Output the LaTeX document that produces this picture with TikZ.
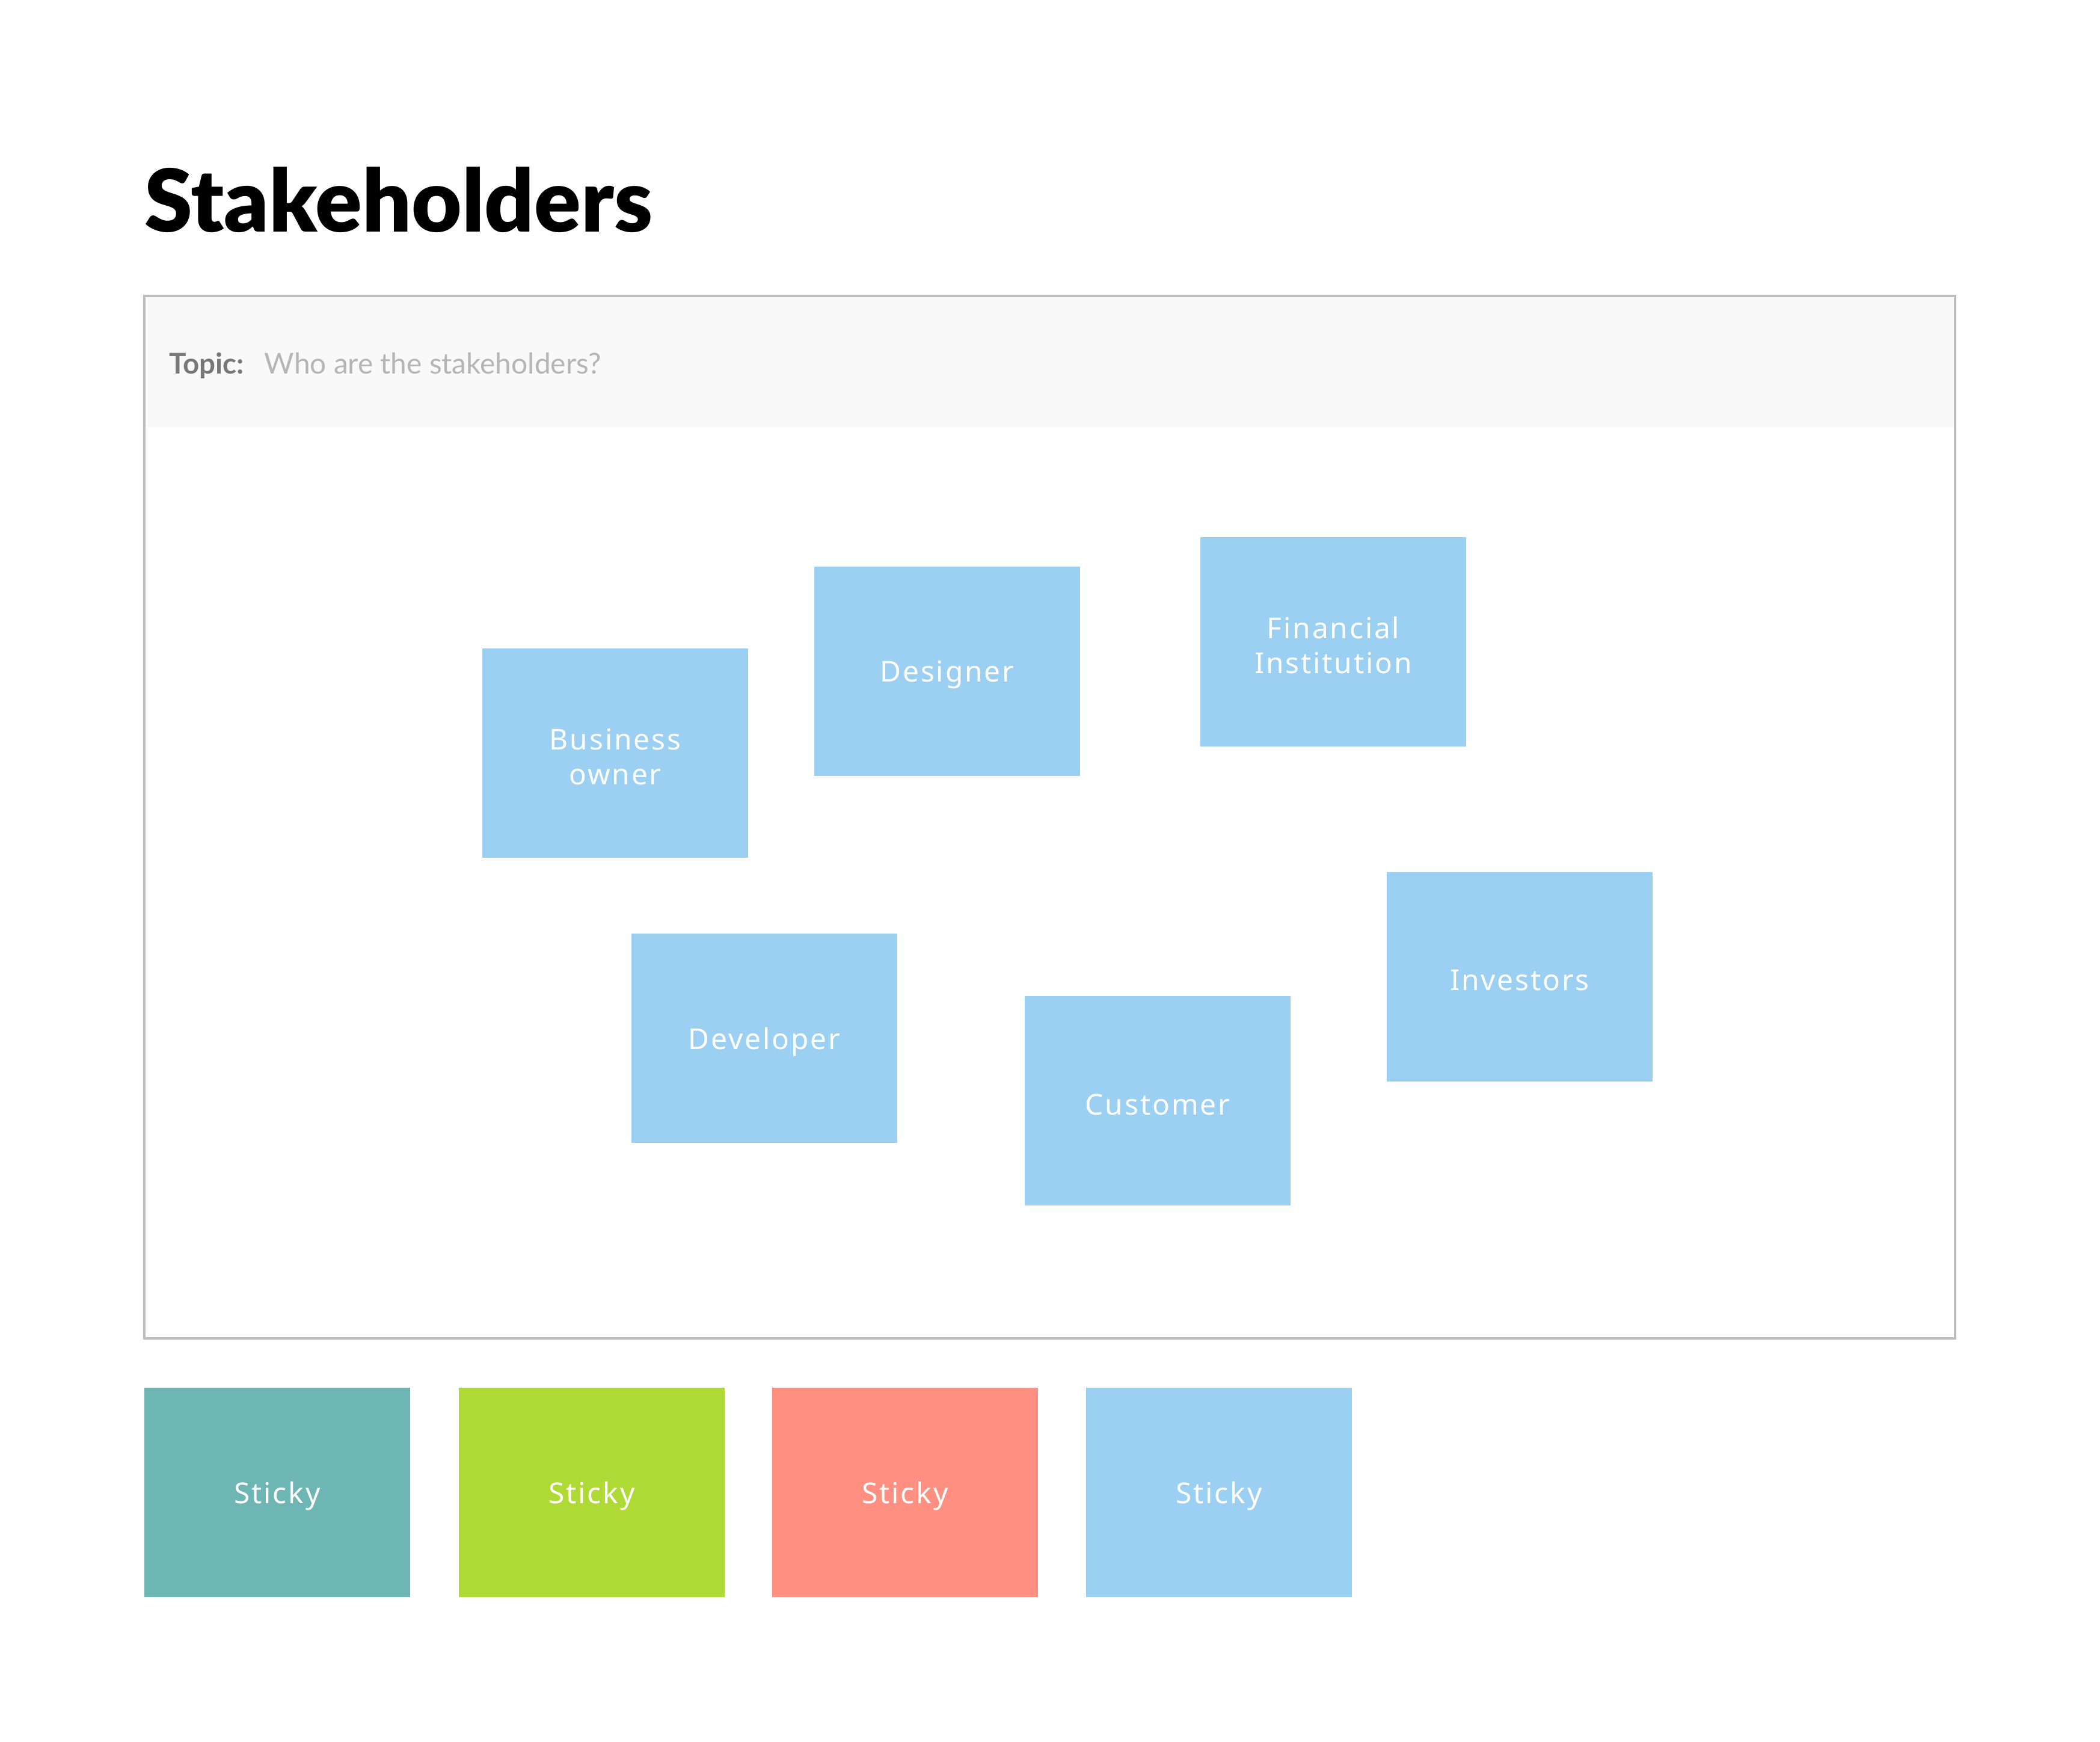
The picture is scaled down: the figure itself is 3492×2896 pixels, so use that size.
\documentclass[tikz,border=0pt]{standalone}
\usepackage{fontspec}
\setmainfont{Lato}
\newfontfamily\titlefont{Lato Black}
\newfontfamily\stickyfont[LetterSpace=6]{Noto Sans}
\definecolor{skyblue}{HTML}{9BD0F2}
\definecolor{tealc}{HTML}{6DB6B4}
\definecolor{limec}{HTML}{AFDA35}
\definecolor{salmonc}{HTML}{FF8F80}
\definecolor{framec}{HTML}{BDBDBD}
\definecolor{headc}{HTML}{F9F9F9}
\definecolor{topicc}{HTML}{777777}
\definecolor{questc}{HTML}{B5B5B5}
\tikzset{
  sticky/.style={rectangle, inner sep=0pt, minimum width=4.42cm, minimum height=3.48cm,
    text=white, align=center, font=\stickyfont\fontsize{13.6}{16.5}\selectfont},
  stickytext/.style={inner sep=0pt, text=white, align=center, font=\stickyfont\fontsize{13.6}{16.5}\selectfont},
}
\begin{document}
\begin{tikzpicture}[x=0.01cm,y=-0.01cm]
\useasboundingbox[fill=white] (0,0) rectangle (3492,2896);
% title
\node[anchor=base west, inner sep=0pt, font=\titlefont\fontsize{41}{48}\selectfont] (title) at (240,385) {Stakeholders};
% frame
\fill[headc] (240,492) rectangle (3251,710);
\draw[framec, line width=1.1pt] (240,492) rectangle (3251,2225);
\node[anchor=base west, inner sep=0pt, text=topicc, font=\bfseries\fontsize{13.5}{16}\selectfont] (topic) at (281,621) {Topic:};
\node[anchor=base west, inner sep=0pt, text=questc, font=\fontsize{13.6}{16}\selectfont] (quest) at (439,621) {Who are the stakeholders?};
% stickies in frame
\node[sticky, fill=skyblue] (bo) at (1023,1252) {};
\node[stickytext] (bot) at ([yshift=-0.06cm]bo.center) {Business\\owner};
\node[sticky, fill=skyblue] (des) at (1575,1116) {};
\node[stickytext] (dest) at ([yshift=-0.06cm]des.center) {Designer};
\node[sticky, fill=skyblue] (fin) at (2217,1067) {};
\node[stickytext] (fint) at ([yshift=-0.06cm]fin.center) {Financial\\Institution};
\node[sticky, fill=skyblue] (dev) at (1271,1726) {};
\node[stickytext] (devt) at ([yshift=-0.06cm]dev.center) {Developer};
\node[sticky, fill=skyblue] (cus) at (1925,1830) {};
\node[stickytext] (cust) at ([yshift=-0.06cm]cus.center) {Customer};
\node[sticky, fill=skyblue] (inv) at (2527,1624) {};
\node[stickytext] (invt) at ([yshift=-0.06cm]inv.center) {Investors};
% palette
\node[sticky, fill=tealc] (s1) at (461,2481) {};
\node[stickytext] (s1t) at ([yshift=-0.06cm]s1.center) {Sticky};
\node[sticky, fill=limec] (s2) at (984,2481) {};
\node[stickytext] (s2t) at ([yshift=-0.06cm]s2.center) {Sticky};
\node[sticky, fill=salmonc] (s3) at (1505,2481) {};
\node[stickytext] (s3t) at ([yshift=-0.06cm]s3.center) {Sticky};
\node[sticky, fill=skyblue] (s4) at (2027,2481) {};
\node[stickytext] (s4t) at ([yshift=-0.06cm]s4.center) {Sticky};
\end{tikzpicture}
\end{document}
